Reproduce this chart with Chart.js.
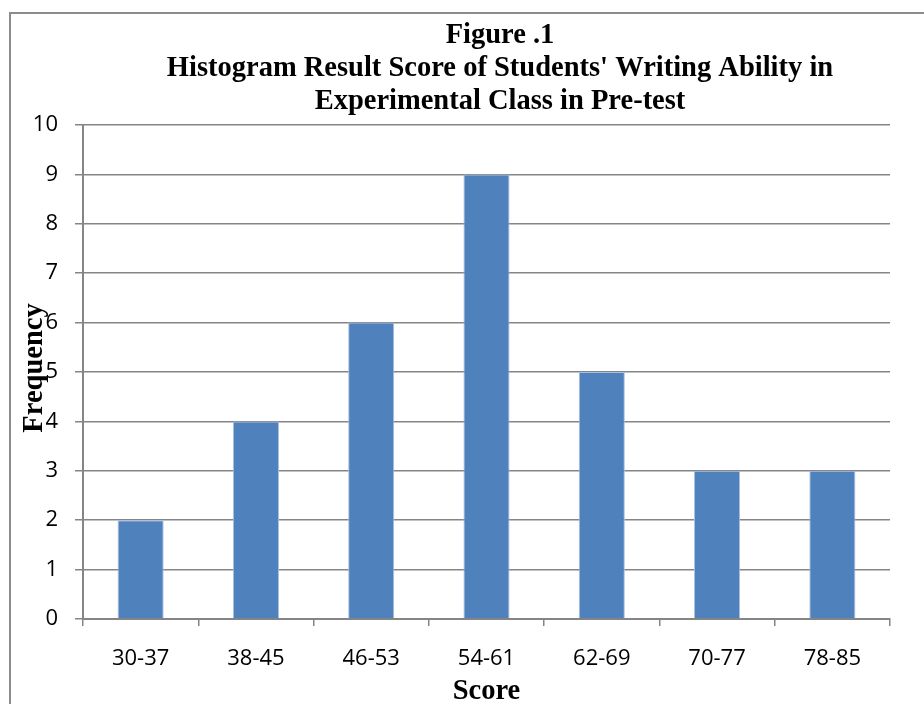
<!DOCTYPE html>
<html>
<head>
<meta charset="utf-8">
<title>Histogram Result Score of Students' Writing Ability</title>
<script src="https://cdn.jsdelivr.net/npm/chart.js@4/dist/chart.umd.min.js"></script>
<style>
  html, body { margin: 0; padding: 0; background: #ffffff; }
  #wrap { width: 924px; height: 704px; }
</style>
</head>
<body>
<div id="wrap"><canvas id="hist" width="924" height="704"></canvas></div>
<script>
// Score intervals and the number of students in each
const categories = ['30-37', '38-45', '46-53', '54-61', '62-69', '70-77', '78-85'];
const frequency = [2, 4, 6, 9, 5, 3, 3];
const yTicks = [0, 1, 2, 3, 4, 5, 6, 7, 8, 9, 10];

const titleLines = ['Figure .1', "Histogram Result Score of Students' Writing Ability in", 'Experimental Class in Pre-test'];
const xTitle = 'Score';
const yTitle = 'Frequency';

const serifBold = 'bold 28.5px "Liberation Serif", "Times New Roman", serif';
const gridGray = '#858585';
const tickFont = { family: '"Open Sans", "Liberation Sans", sans-serif', size: 22 };

// Frame around the figure plus the title and axis captions
const decorations = {
  id: 'decorations',
  beforeDraw(chart) {
    const ctx = chart.ctx;
    ctx.save();
    ctx.fillStyle = '#ffffff';
    ctx.fillRect(0, 0, chart.width, chart.height);
    ctx.strokeStyle = '#8c8c8c';
    ctx.lineWidth = 2;
    ctx.beginPath();
    ctx.moveTo(10, chart.height + 5);
    ctx.lineTo(10, 13);
    ctx.lineTo(chart.width + 5, 13);
    ctx.stroke();
    ctx.restore();
  },
  afterDraw(chart) {
    const ctx = chart.ctx;
    const area = chart.chartArea;
    ctx.save();
    ctx.fillStyle = '#000000';
    ctx.font = serifBold;
    ctx.textAlign = 'center';
    ctx.textBaseline = 'alphabetic';
    titleLines.forEach((line, i) => ctx.fillText(line, 500, 43 + i * 33));
    ctx.fillText(xTitle, (area.left + area.right) / 2, 699);
    ctx.translate(42, 368);
    ctx.rotate(-Math.PI / 2);
    ctx.fillText(yTitle, 0, 0);
    ctx.restore();
  }
};

new Chart(document.getElementById('hist'), {
  type: 'bar',
  data: {
    labels: categories,
    datasets: [{
      data: frequency,
      backgroundColor: '#4f81bd',
      borderColor: '#a9c0de',
      borderWidth: 1,
      categoryPercentage: 0.8,
      barPercentage: 0.5
    }]
  },
  options: {
    responsive: false,
    animation: false,
    events: [],
    layout: { padding: { top: 125, left: 0, right: 34, bottom: 0 } },
    plugins: {
      legend: { display: false },
      title: { display: false },
      tooltip: { enabled: false }
    },
    scales: {
      x: {
        afterFit(scale) { scale.height = 85; },
        grid: {
          offset: true,
          drawOnChartArea: false,
          drawTicks: true,
          tickLength: 7,
          color: gridGray,
          lineWidth: 1.5
        },
        border: { display: true, color: gridGray, width: 2 },
        ticks: {
          color: '#000000',
          padding: 20,
          maxRotation: 0,
          font: tickFont
        }
      },
      y: {
        min: 0,
        max: 10,
        afterFit(scale) { scale.width = 83; },
        afterBuildTicks(scale) { scale.ticks = yTicks.map(v => ({ value: v })); },
        grid: {
          color: gridGray,
          lineWidth: 1.5,
          drawTicks: true,
          tickLength: 8
        },
        border: { display: true, color: gridGray, width: 2 },
        ticks: {
          color: '#000000',
          padding: 17,
          stepSize: 1,
          font: tickFont
        }
      }
    }
  },
  plugins: [decorations]
});
</script>
</body>
</html>
